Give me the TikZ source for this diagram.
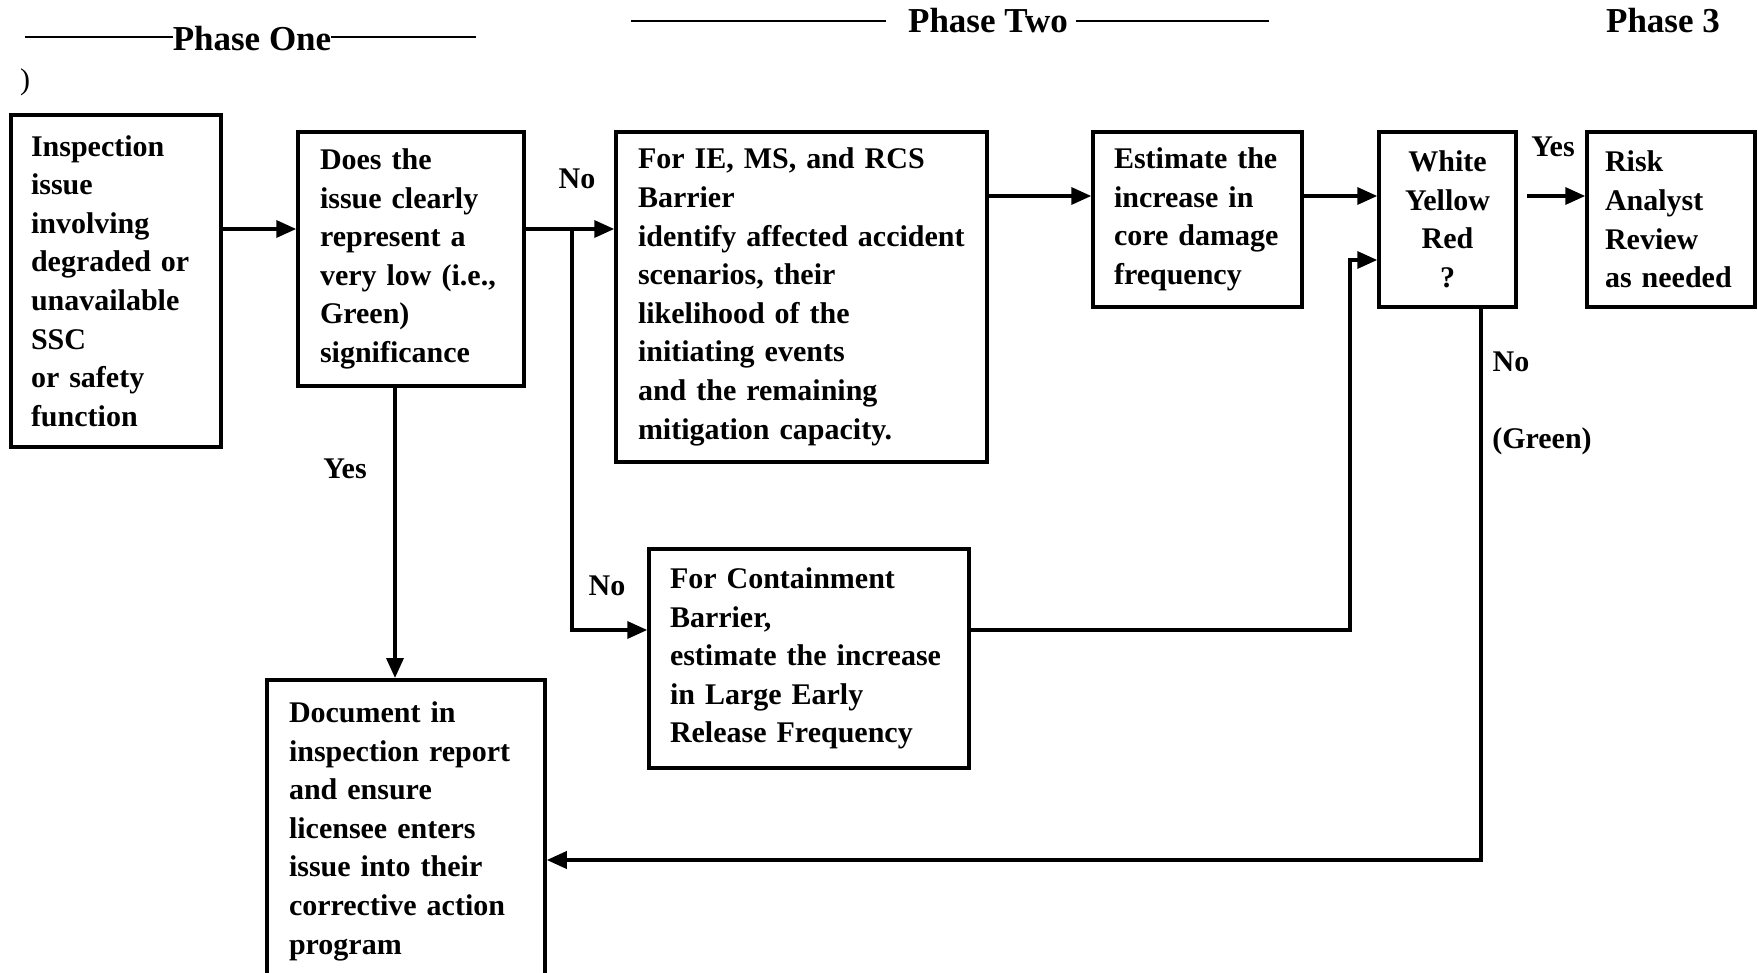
\documentclass[tikz,border=0pt]{standalone}
\usepackage{fontspec}
\setmainfont{Liberation Serif}
\usetikzlibrary{arrows.meta}
\begin{document}
\begin{tikzpicture}[x=1pt,y=-1pt,
  box/.style={draw, line width=3.5pt, inner sep=0pt, align=left,
    font=\fontsize{30}{38.6}\selectfont\bfseries},
  lbl/.style={font=\fontsize{30}{36}\selectfont\bfseries, inner sep=0pt},
  phase/.style={font=\fontsize{35}{40}\selectfont\bfseries, inner sep=0pt},
  arr/.style={line width=3.5pt, -{Triangle[length=20pt,width=17pt]}},
  ln/.style={line width=2.8pt}]
\useasboundingbox (0,0) rectangle (1758,973);

% phase headings
\node[phase] (p1) at (252,39) {Phase One};
\node[phase] (p2) at (988,21) {Phase Two};
\node[phase] (p3) at (1663,21) {Phase 3};
\coordinate (p1l) at (25,37);
\coordinate (p1r) at (476,37);
\coordinate (p2l) at (631,21);
\coordinate (p2a) at (886,21);
\coordinate (p2b) at (1076,21);
\coordinate (p2r) at (1269,21);
\draw[ln] (p1l) -- (p1.west |- p1l);
\draw[ln] (p1.east |- p1r) -- (p1r);
\draw[ln] (p2l) -- (p2a);
\draw[ln] (p2b) -- (p2r);
\node[font=\fontsize{30}{36}\selectfont, inner sep=0pt] (par) at (25,82) {)};

% boxes
\node[box, minimum width=210pt, minimum height=332pt, text width=170pt] (b1) at (116,281)
  {Inspection\\issue\\involving\\degraded or\\unavailable\\SSC\\or safety\\function};
\node[box, minimum width=226pt, minimum height=254pt, text width=182pt] (b2) at (411,259)
  {Does the\\issue clearly\\represent a\\very low (i.e.,\\Green)\\significance};
\node[box, minimum width=371pt, minimum height=330pt, text width=327pt] (b3) at (801.5,297)
  {For IE, MS, and RCS\\Barrier\\identify affected accident\\scenarios, their\\likelihood of the\\initiating events\\and the remaining\\mitigation capacity.};
\node[box, minimum width=209pt, minimum height=175pt, text width=167pt] (b4) at (1197.5,219.5)
  {Estimate the\\increase in\\core damage\\frequency};
\node[box, minimum width=137pt, minimum height=175pt, align=center] (b5) at (1447.5,219.5)
  {White\\Yellow\\Red\\?};
\node[box, minimum width=168pt, minimum height=175pt, text width=132pt] (b6) at (1671,219.5)
  {Risk\\Analyst\\Review\\as needed};
\node[box, minimum width=320pt, minimum height=219pt, text width=278pt] (b7) at (809,658.5)
  {For Containment\\Barrier,\\estimate the increase\\in Large Early\\Release Frequency};
\node[box, minimum width=278pt, text width=234pt, inner ysep=22pt, anchor=north] (b8) at (406,678)
  {Document in\\inspection report\\and ensure\\licensee enters\\issue into their\\corrective action\\program};

% routing coordinates
\coordinate (j1) at (572,229);
\coordinate (j2) at (572,630);
\coordinate (r1) at (0,196);
\coordinate (c1) at (1350,630);
\coordinate (c2) at (1350,260);
\coordinate (c3) at (1481,860);
\coordinate (d1) at (395,0);

% connectors
\draw[arr] (b1.east |- j1) -- (b2.west |- j1);
\draw[arr] (b2.east |- j1) -- (b3.west |- j1);
\draw[arr] (j1) -- (j2) -- (b7.west |- j2);
\draw[arr] (b2.south -| d1) -- (b8.north -| d1);
\draw[arr] (b3.east |- r1) -- (b4.west |- r1);
\draw[arr] (b4.east |- r1) -- (b5.west |- r1);
\draw[arr, shorten <=9pt] (b5.east |- r1) -- (b6.west |- r1);
\draw[arr] (b7.east |- c1) -- (c1) -- (c2) -- (b5.west |- c2);
\draw[arr] (b5.south -| c3) -- (c3) -- (b8.east |- c3);

% labels
\node[lbl] (no1) at (577,179) {No};
\node[lbl] (no2) at (607,586) {No};
\node[lbl] (yes1) at (345,469) {Yes};
\node[lbl] (yes2) at (1553,147) {Yes};
\node[lbl] (no3) at (1511,362) {No};
\node[lbl] (green) at (1542,441) {(Green)};
\end{tikzpicture}
\end{document}
